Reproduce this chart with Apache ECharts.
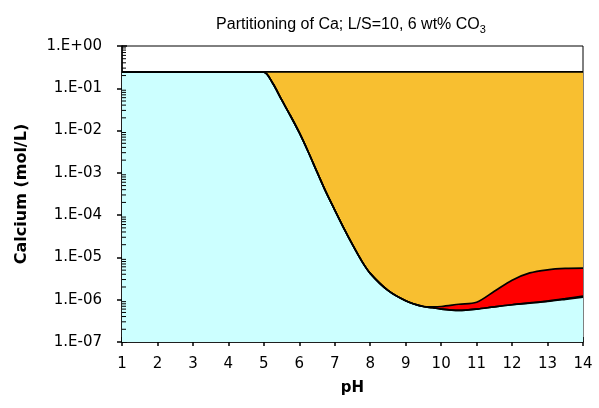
<!DOCTYPE html>
<html>
<head>
<meta charset="utf-8">
<script src="https://cdn.jsdelivr.net/npm/echarts@6/dist/echarts.min.js"></script>
<style>
  html, body { margin: 0; padding: 0; background: #fff; }
  #main { width: 599px; height: 408px; }
</style>
</head>
<body>
<div id="main"></div>
<script>
// pH steps
var ph = [1, 2, 3, 4, 4.5, 5, 5.25, 5.5, 5.75, 6, 6.25, 6.5, 6.75, 7, 7.25, 7.5, 7.75, 8, 8.5, 9, 9.5, 9.75, 10, 10.5, 11, 11.5, 12, 12.5, 13, 13.5, 14];
// dissolved Ca (top of light blue)
var dissolved = [0.245, 0.245, 0.245, 0.245, 0.245, 0.24, 0.132, 0.0537, 0.0224, 8.9e-3, 3.16e-3, 1.05e-3, 3.55e-4, 1.32e-4, 5.0e-5, 2.0e-5, 8.5e-6, 4.2e-6, 1.66e-6, 9.5e-7, 6.9e-7, 6.5e-7, 6.0e-7, 5.6e-7, 6.0e-7, 6.8e-7, 7.6e-7, 8.3e-7, 9.1e-7, 1.02e-6, 1.15e-6];
// thin green phase near pH 14
var green = [0.245, 0.245, 0.245, 0.245, 0.245, 0.24, 0.132, 0.0537, 0.0224, 8.9e-3, 3.16e-3, 1.05e-3, 3.55e-4, 1.32e-4, 5.0e-5, 2.0e-5, 8.5e-6, 4.2e-6, 1.66e-6, 9.5e-7, 6.9e-7, 6.5e-7, 6.0e-7, 5.6e-7, 6.0e-7, 6.8e-7, 7.6e-7, 8.4e-7, 9.3e-7, 1.06e-6, 1.22e-6];
// top of red band
var redTop = [0.245, 0.245, 0.245, 0.245, 0.245, 0.24, 0.132, 0.0537, 0.0224, 8.9e-3, 3.16e-3, 1.05e-3, 3.55e-4, 1.32e-4, 5.0e-5, 2.0e-5, 8.5e-6, 4.2e-6, 1.66e-6, 9.5e-7, 6.9e-7, 6.8e-7, 6.9e-7, 7.8e-7, 8.7e-7, 1.58e-6, 2.9e-6, 4.3e-6, 5.1e-6, 5.5e-6, 5.6e-6];
// total Ca
var totalPh = [1, 14];
var total = [0.245, 0.245];
var minorMult = [2, 3, 4, 5, 6, 7, 8, 9];
var decades = [1e-7, 1e-6, 1e-5, 1e-4, 1e-3, 1e-2, 1e-1];

function pairs(xs, ys) {
    var out = [];
    for (var i = 0; i < xs.length; i++) out.push([xs[i], ys[i]]);
    return out;
}

var minorTicks = [];
decades.forEach(function (d) {
    minorMult.forEach(function (m) { minorTicks.push([1, m * d]); });
});

var font = 'DejaVu Sans';
var myChart = echarts.init(document.getElementById('main'));

function areaSeries(name, data, fill) {
    return {
        name: name,
        type: 'line',
        data: data,
        smooth: 0.3,
        showSymbol: false,
        symbol: 'none',
        lineStyle: { color: '#000', width: 1.7 },
        areaStyle: { color: fill, opacity: 1, origin: 'start' },
        silent: true
    };
}

option = {
    animation: false,
    title: {
        text: 'Partitioning of Ca; L/S=10, 6 wt% CO{sub|3}',
        left: 346,
        top: 10,
        textAlign: 'center',
        textStyle: {
            fontFamily: 'Liberation Sans',
            fontSize: 16,
            fontWeight: 'normal',
            color: '#000',
            rich: {
                sub: { fontFamily: 'Liberation Sans', fontSize: 11, verticalAlign: 'bottom', padding: [9, 0, 0, 0], color: '#000' }
            }
        }
    },
    grid: {
        left: 122, right: 16, top: 46, bottom: 66,
        show: true, borderColor: '#000', borderWidth: 1, backgroundColor: 'transparent'
    },
    xAxis: [
        {
            type: 'value', min: 1, max: 14, interval: 1,
            name: 'pH', nameLocation: 'middle', nameGap: 39,
            nameTextStyle: { fontFamily: font, fontSize: 15, fontWeight: 'bold', color: '#000' },
            axisLine: { lineStyle: { color: '#000', width: 1.5 } },
            axisTick: { show: true, inside: false, length: 4, lineStyle: { color: '#000', width: 1.5 } },
            axisLabel: { fontFamily: font, fontSize: 15, color: '#000', margin: 15 },
            splitLine: { show: false }
        },
        {
            type: 'value', min: 1, max: 14, interval: 1, position: 'bottom',
            axisLine: { show: false },
            axisTick: { show: true, inside: true, length: 5, lineStyle: { color: '#000', width: 1.5 } },
            minorTick: { show: true, splitNumber: 2, length: 3, lineStyle: { color: '#000', width: 1.5 } },
            axisLabel: { show: false },
            splitLine: { show: false }
        }
    ],
    yAxis: [
        {
            type: 'log', min: 1e-7, max: 1, logBase: 10,
            name: 'Calcium (mol/L)', nameLocation: 'middle', nameGap: 92,
            nameTextStyle: { fontFamily: font, fontSize: 16, fontWeight: 'bold', color: '#000' },
            axisLine: { lineStyle: { color: '#000', width: 1.5 } },
            axisTick: { show: true, inside: false, length: 5, lineStyle: { color: '#000', width: 1.5 } },
            axisLabel: {
                fontFamily: font, fontSize: 15, color: '#000', margin: 20,
                formatter: function (v) {
                    var e = Math.round(Math.log10(v));
                    var a = Math.abs(e);
                    return '1.E' + (e < 0 ? '-' : '+') + (a < 10 ? '0' : '') + a;
                }
            },
            splitLine: { show: false }
        },
        {
            type: 'log', min: 1e-7, max: 1, logBase: 10, position: 'left',
            axisLine: { show: false },
            axisTick: { show: true, inside: true, length: 5, lineStyle: { color: '#000', width: 1.5 } },
            axisLabel: { show: false },
            splitLine: { show: false }
        }
    ],
    series: [
        areaSeries('total', pairs(totalPh, total), '#F8BF30'),
        areaSeries('red', pairs(ph, redTop), '#FF0000'),
        areaSeries('green', pairs(ph, green), '#006400'),
        areaSeries('dissolved', pairs(ph, dissolved), '#CCFFFF'),
        {
            type: 'custom',
            silent: true,
            clip: false,
            zlevel: 1,
            z: 10,
            data: minorTicks,
            renderItem: function (params, api) {
                var p = api.coord([api.value(0), api.value(1)]);
                return {
                    type: 'line',
                    shape: { x1: p[0], y1: p[1], x2: p[0] + 4, y2: p[1] },
                    style: { stroke: '#000', lineWidth: 1 }
                };
            }
        }
    ]
};
myChart.setOption(option);
</script>
</body>
</html>
